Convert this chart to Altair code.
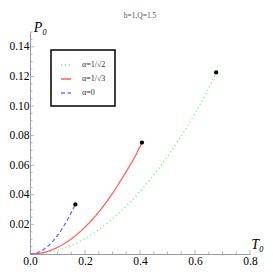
import altair as alt
import pandas as pd

# ---- data ----
series_labels = ["α=1/√2", "α=1/√3", "α=0"]
series_colors = ["#77ee77", "#ff6060", "#6f6fff"]
series_dash = [[1.2, 2.8], [1, 0], [4, 2.5]]

T_green = [0, 0.05, 0.1, 0.15, 0.2, 0.25, 0.3, 0.35, 0.4, 0.45, 0.5, 0.55, 0.6, 0.64, 0.677]
P_green = [0, 0.0007, 0.0026, 0.0058, 0.0105, 0.0165, 0.0238, 0.0324, 0.0422, 0.0535, 0.066, 0.0798, 0.095, 0.1085, 0.1227]

T_red = [0, 0.05, 0.1, 0.15, 0.2, 0.25, 0.3, 0.35, 0.38, 0.407]
P_red = [0, 0.0011, 0.0045, 0.0102, 0.0182, 0.0284, 0.041, 0.0557, 0.0652, 0.0753]

T_blue = [0, 0.02, 0.04, 0.06, 0.08, 0.1, 0.12, 0.14, 0.165]
P_blue = [0, 0.0005, 0.002, 0.0045, 0.008, 0.0125, 0.018, 0.0245, 0.0335]

T_end = [0.677, 0.407, 0.165]
P_end = [0.1227, 0.0753, 0.0335]

x_major = [0.0, 0.2, 0.4, 0.6, 0.8]
x_minor = [0.05, 0.1, 0.15, 0.25, 0.3, 0.35, 0.45, 0.5, 0.55, 0.65, 0.7, 0.75]
y_major = [0.02, 0.04, 0.06, 0.08, 0.10, 0.12, 0.14]
y_minor = [0.005, 0.01, 0.015, 0.025, 0.03, 0.035, 0.045, 0.05, 0.055, 0.065, 0.07, 0.075,
           0.085, 0.09, 0.095, 0.105, 0.11, 0.115, 0.125, 0.13, 0.135, 0.145, 0.15]

title_text = "b=1,Q=1.5"

# ---- tables ----
rows = []
for lab, ts, ps in zip(series_labels, [T_green, T_red, T_blue], [P_green, P_red, P_blue]):
    for t, p in zip(ts, ps):
        rows.append({"T": t, "P": p, "series": lab})
lines_df = pd.DataFrame(rows)
ends_df = pd.DataFrame({"T": T_end, "P": P_end})

xs = alt.Scale(domain=[0, 0.8], nice=False, zero=False)
ys = alt.Scale(domain=[0, 0.15], nice=False, zero=False)
SERIF = "Liberation Serif"
AXC = "#9a9a9a"

x_axis = alt.Axis(values=x_major, format=".1f", ticks=False, grid=False,
                  domainColor=AXC, domainWidth=1, labelOverlap=False, labelBound=False,
                  labelFont=SERIF, labelFontSize=11.5, labelColor="black", labelPadding=1,
                  title="T₀", titleFont=SERIF, titleFontStyle="italic", titleFontWeight="normal",
                  titleFontSize=14, titleColor="black", titleX=227, titleY=-10,
                  titleAlign="center", titleBaseline="middle", labelFlush=False)
y_axis = alt.Axis(values=y_major, format=".2f", ticks=False, grid=False,
                  domainColor=AXC, domainWidth=1, labelOverlap=False, labelBound=False,
                  labelFont=SERIF, labelFontSize=11.5, labelColor="black", labelPadding=1,
                  title="P₀", titleFont=SERIF, titleFontStyle="italic", titleFontWeight="normal",
                  titleFontSize=14, titleColor="black", titleAngle=0, titleX=10, titleY=-5,
                  titleAlign="center", titleBaseline="middle", labelFlush=False)

lines = alt.Chart(lines_df).mark_line(strokeWidth=1.3, interpolate="monotone").encode(
    x=alt.X("T:Q", scale=xs, axis=x_axis),
    y=alt.Y("P:Q", scale=ys, axis=y_axis),
    color=alt.Color("series:N", scale=alt.Scale(domain=series_labels, range=series_colors),
                    legend=alt.Legend(title=None)),
    strokeDash=alt.StrokeDash("series:N", scale=alt.Scale(domain=series_labels, range=series_dash),
                              legend=alt.Legend(title=None)),
    order=alt.Order("T:Q"),
)

points = alt.Chart(ends_df).mark_circle(size=18, color="black", opacity=1).encode(
    x=alt.X("T:Q", scale=xs, axis=x_axis), y=alt.Y("P:Q", scale=ys, axis=y_axis))

def xticks(vals, size):
    return alt.Chart(pd.DataFrame({"v": vals})).mark_tick(
        orient="vertical", size=size, thickness=1, color=AXC, yOffset=-size / 2).encode(
        x=alt.X("v:Q", scale=xs, axis=x_axis), y=alt.Y(datum=0, scale=ys, axis=y_axis))

def yticks(vals, size):
    return alt.Chart(pd.DataFrame({"v": vals})).mark_tick(
        orient="horizontal", size=size, thickness=1, color=AXC, xOffset=size / 2).encode(
        y=alt.Y("v:Q", scale=ys, axis=y_axis), x=alt.X(datum=0, scale=xs, axis=x_axis))

chart = alt.layer(
    lines,
    xticks(x_major[1:], 4), xticks(x_minor, 2.5),
    yticks(y_major, 4), yticks(y_minor, 2.5),
    points,
).properties(
    width=220, height=222,
    padding={"left": 22, "top": 24, "right": 15, "bottom": 13},
    autosize=alt.AutoSizeParams(type="none"),
    title=alt.TitleParams(title_text, font=SERIF, fontSize=7.5, fontWeight="normal",
                          color="#555555", anchor="middle", offset=1),
).configure_view(stroke=None).configure_legend(
    orient="none", legendX=21, legendY=18,
    strokeColor="black", fillColor="white", strokeWidth=1.5, padding=9, cornerRadius=0,
    symbolType="stroke", symbolSize=100, symbolStrokeWidth=1.3,
    labelFont=SERIF, labelFontSize=8, labelColor="#333333", labelOffset=10, rowPadding=4,
)

chart.save("out.html", embed_options={"renderer": "svg", "actions": False})
